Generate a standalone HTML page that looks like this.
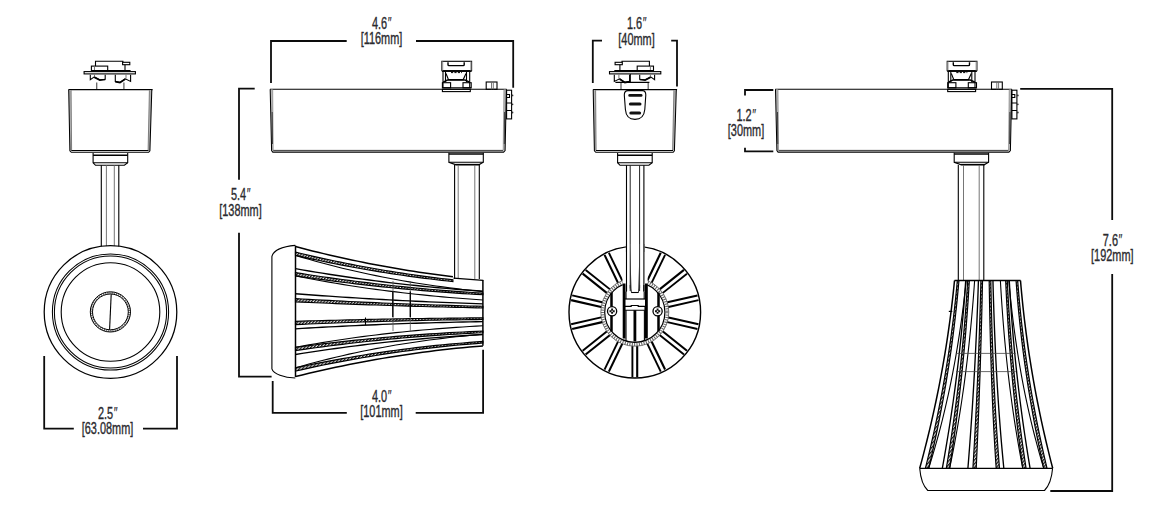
<!DOCTYPE html>
<html><head><meta charset="utf-8"><style>
html,body{margin:0;padding:0;background:#fff;}
svg{display:block;}
.t{font-family:"Liberation Sans",sans-serif;font-size:15.6px;fill:#2a2a2e;stroke:#2a2a2e;stroke-width:0.35px;}
.dim{stroke:#0c0c0c;stroke-width:1.8;fill:none;stroke-linecap:butt;stroke-linejoin:miter;}
.l{stroke:#000;stroke-width:1.1;fill:none;}
.lg{stroke:#666;stroke-width:0.9;fill:none;}
</style></head><body>
<svg width="1156" height="519" viewBox="0 0 1156 519">
<defs><pattern id="h" patternUnits="userSpaceOnUse" width="2.4" height="2.4" patternTransform="rotate(40)"><rect width="2.4" height="2.4" fill="#e8e8e8"/><rect width="1.25" height="2.4" fill="#1a1a1a"/></pattern></defs>
<rect width="1156" height="519" fill="#fff"/>
<text transform="translate(107.5 418.8) scale(0.7 1)" x="0" y="0" text-anchor="middle" class="t">2.5<tspan font-style="italic" style="stroke-width:0.15px">&#8243;</tspan></text>
<text transform="translate(107.5 433.6) scale(0.7 1)" x="0" y="0" text-anchor="middle" class="t">[63.08mm]</text>
<text transform="translate(381.5 28.5) scale(0.7 1)" x="0" y="0" text-anchor="middle" class="t">4.6<tspan font-style="italic" style="stroke-width:0.15px">&#8243;</tspan></text>
<text transform="translate(381.5 44.2) scale(0.7 1)" x="0" y="0" text-anchor="middle" class="t">[116mm]</text>
<text transform="translate(240.5 200) scale(0.7 1)" x="0" y="0" text-anchor="middle" class="t">5.4<tspan font-style="italic" style="stroke-width:0.15px">&#8243;</tspan></text>
<text transform="translate(240.5 215.9) scale(0.7 1)" x="0" y="0" text-anchor="middle" class="t">[138mm]</text>
<text transform="translate(381.5 402.2) scale(0.7 1)" x="0" y="0" text-anchor="middle" class="t">4.0<tspan font-style="italic" style="stroke-width:0.15px">&#8243;</tspan></text>
<text transform="translate(381.5 417) scale(0.7 1)" x="0" y="0" text-anchor="middle" class="t">[101mm]</text>
<text transform="translate(636.5 29.2) scale(0.7 1)" x="0" y="0" text-anchor="middle" class="t">1.6<tspan font-style="italic" style="stroke-width:0.15px">&#8243;</tspan></text>
<text transform="translate(636.5 45.3) scale(0.7 1)" x="0" y="0" text-anchor="middle" class="t">[40mm]</text>
<text transform="translate(746 120.6) scale(0.7 1)" x="0" y="0" text-anchor="middle" class="t">1.2<tspan font-style="italic" style="stroke-width:0.15px">&#8243;</tspan></text>
<text transform="translate(746 136.3) scale(0.7 1)" x="0" y="0" text-anchor="middle" class="t">[30mm]</text>
<text transform="translate(1112.3 245.8) scale(0.7 1)" x="0" y="0" text-anchor="middle" class="t">7.6<tspan font-style="italic" style="stroke-width:0.15px">&#8243;</tspan></text>
<text transform="translate(1112.3 261.3) scale(0.7 1)" x="0" y="0" text-anchor="middle" class="t">[192mm]</text>
<path d="M44.2,356 V428.7 H73.8" class="dim"/>
<path d="M143,428.7 H177 V356" class="dim"/>
<path d="M271,83 V41 H346.7" class="dim"/>
<path d="M416,41 H513.2 V87.7" class="dim"/>
<path d="M254.7,88.6 H239 V179.7" class="dim"/>
<path d="M239,232.7 V376.7 H271.6" class="dim"/>
<path d="M272.7,381 V412.9 H346.8" class="dim"/>
<path d="M415.7,412.9 H483.1 V349.8" class="dim"/>
<path d="M602,40.6 H592.8 V83.1" class="dim"/>
<path d="M671.2,40.6 H677 V86.5" class="dim"/>
<path d="M773.3,90 H745 V95.4" class="dim"/>
<path d="M745,147.8 V151.3 H773.3" class="dim"/>
<path d="M1020.2,88.9 H1112.2 V220" class="dim"/>
<path d="M1112.2,274 V491 H1050.3" class="dim"/>
<g transform="translate(0 0)"><path d="M95.5,66.1 V61.2 H122.9 V62.4" class="l"/><rect x="122.6" y="62.3" width="7.2" height="2.4" class="l" fill="#555"/><path d="M125,64.7 V70.6" class="l"/><rect x="91.4" y="66.1" width="16.3" height="4.5" class="l"/><path d="M94.5,66.1 V70.6" class="lg"/><path d="M91.4,70.6 H130.6" class="l"/><rect x="84.1" y="71.6" width="51.3" height="2.3" class="l"/><path d="M90.3,74.7 V79.6 L94.3,76.9 L99.8,79.8 L105.2,79.2 V74.7" class="l"/><path d="M94.5,74.7 V77" class="lg"/><path d="M115.3,74.7 V81.5 L120,82.3 L125.3,78.8 L130.6,81.4 V74.7" class="l"/><path d="M126,74.7 V78.5" class="lg"/><path d="M94.3,77.2 L99.8,80.2 L105.2,79.5" stroke="#000" stroke-width="1.6" fill="none"/><path d="M115.3,81.6 L120,82.6 L125.3,79" stroke="#000" stroke-width="1.6" fill="none"/><path d="M96.7,82.4 V89.3 M123.9,82.4 V89.3" stroke="#666" stroke-width="1.3" fill="none"/></g>
<g transform="translate(0 0)"><path d="M68.6,89.6 H152.6" class="l"/><polygon points="68.9,90 71.1,90.2 71.6,150.3 69.8,150.6" fill="#b4b4b4"/><polygon points="151.6,90 149.4,90.2 148.1,150.3 149.8,150.6" fill="#b4b4b4"/><path d="M68.7,89.6 L69.9,150.8 L71.3,152.3 H148.7 L149.9,150.8 L151.8,89.6" stroke="#000" stroke-width="1.05" fill="none"/><path d="M71.1,90.2 L71.6,150.3 M149.4,90.2 L148.1,150.3" stroke="#666" stroke-width="0.8" fill="none"/><path d="M71.3,150.5 H148.5" stroke="#000" stroke-width="1" fill="none"/><path d="M93.1,153 V162.7 L95.5,165.3 H124.4 L127.7,162.7 V153" class="l"/><path d="M93.1,155.2 H127.7" stroke="#000" stroke-width="1.4"/><path d="M93.1,162.7 H127.7" class="l"/></g>
<path d="M101.3,165.3 V246.5 M118.8,165.3 V246.5" class="l"/>
<path d="M106.4,165.3 V246 M114.3,165.3 V246" class="lg"/>
<circle cx="110.5" cy="312" r="66.3" stroke="#000" stroke-width="1.25" fill="none"/>
<circle cx="110.5" cy="312" r="58.1" stroke="#000" stroke-width="1.05" fill="none"/>
<circle cx="110.5" cy="312" r="56.1" stroke="#000" stroke-width="1.05" fill="none"/>
<circle cx="110.5" cy="312" r="49.3" stroke="#000" stroke-width="1.1" fill="none"/>
<circle cx="110.4" cy="311.9" r="19.0" stroke="#777" stroke-width="2.2" fill="none" stroke-dasharray="1.2 1"/>
<circle cx="110.4" cy="311.9" r="20.1" stroke="#000" stroke-width="1.0" fill="none"/>
<circle cx="110.4" cy="311.9" r="17.9" stroke="#000" stroke-width="1.0" fill="none"/>
<path d="M111.2,294.2 L109.6,329.6" class="l"/>
<g transform="translate(0 0)"><path d="M270,89.3 H506.6" class="l"/><polygon points="270.5,89.6 272.7,89.6 273.2,150.3 271.7,150.5" fill="#b8b8b8"/><polygon points="503.9,89.6 506.2,89.6 505.1,150.5 503.2,150.3" fill="#b8b8b8"/><path d="M270.2,89.3 L271.6,150.6 L272.8,152.1 H503.6 L505.1,150.6 L506.4,89.3" stroke="#000" stroke-width="1.05" fill="none"/><path d="M272.7,89.6 L273.2,150.3 M503.9,89.6 L503.2,150.3" stroke="#777" stroke-width="0.6" fill="none"/><path d="M272.2,112 L272.5,144 M504.6,112 L504.3,144" stroke="#222" stroke-width="0.8" fill="none"/><path d="M273.2,150.4 H503.2" stroke="#222" stroke-width="0.9" fill="none"/><rect x="441.9" y="61.3" width="29.7" height="9.3" class="l"/><polygon points="442,61.6 443.2,61.6 443.2,70.4 442,70.4" fill="#999"/><polygon points="470.3,61.6 471.5,61.6 471.5,70.4 470.3,70.4" fill="#999"/><path d="M448,62.2 V64.8 Q448,65.6 449,65.6 H463.2 Q464.2,65.6 464.2,64.8 V62.2" stroke="#000" stroke-width="1.4" fill="none"/><path d="M441.9,71.4 H471.6" class="l"/><path d="M443,71.4 V87.8 M445.5,71.4 V82 M466.5,71.4 V82 M469.7,71.4 V87.8" class="l"/><path d="M451,72.6 H462" stroke="#000" stroke-width="1" stroke-dasharray="2.2 1.2"/><path d="M446,73.5 L448.5,79.6 H463.2 L466,73.5" class="l"/><path d="M443.2,82.1 L447.5,80 H465 L469.6,82.1" stroke="#000" stroke-width="1.5" fill="none"/><rect x="442.4" y="82.7" width="8.2" height="5.1" class="l"/><rect x="463" y="82.7" width="8.2" height="5.1" class="l"/><path d="M442.4,87.8 H471.2" class="l"/><rect x="442.4" y="89.3" width="27.9" height="2.3" class="l"/><rect x="486.2" y="82" width="10.8" height="7.3" class="l"/><path d="M491.5,82 V89.3 M493.3,82 V89.3" class="lg"/><rect x="506.6" y="90.2" width="5" height="28.7" class="l"/><path d="M506.6,94.5 H509.5 V97.5 H506.6 M506.6,103 H511.6 M506.6,110.5 H511.6" class="l"/><circle cx="512.5" cy="95.4" r="0.9" fill="#333"/><circle cx="512.5" cy="104.3" r="0.9" fill="#333"/><circle cx="512.5" cy="112.5" r="0.9" fill="#333"/><path d="M448.9,152.8 V162.3 L455.5,164.6 H479.2 L483.3,162.3 V152.8" class="l"/><path d="M448.9,154 H483.3" stroke="#000" stroke-width="1.3"/><path d="M448.9,162.3 H483.3" class="l"/><path d="M455.5,164.6 H479.2" stroke="#000" stroke-width="1.5"/></g>
<g transform="translate(505.3 0)"><path d="M270,89.3 H506.6" class="l"/><polygon points="270.5,89.6 272.7,89.6 273.2,150.3 271.7,150.5" fill="#b8b8b8"/><polygon points="503.9,89.6 506.2,89.6 505.1,150.5 503.2,150.3" fill="#b8b8b8"/><path d="M270.2,89.3 L271.6,150.6 L272.8,152.1 H503.6 L505.1,150.6 L506.4,89.3" stroke="#000" stroke-width="1.05" fill="none"/><path d="M272.7,89.6 L273.2,150.3 M503.9,89.6 L503.2,150.3" stroke="#777" stroke-width="0.6" fill="none"/><path d="M272.2,112 L272.5,144 M504.6,112 L504.3,144" stroke="#222" stroke-width="0.8" fill="none"/><path d="M273.2,150.4 H503.2" stroke="#222" stroke-width="0.9" fill="none"/><rect x="441.9" y="61.3" width="29.7" height="9.3" class="l"/><polygon points="442,61.6 443.2,61.6 443.2,70.4 442,70.4" fill="#999"/><polygon points="470.3,61.6 471.5,61.6 471.5,70.4 470.3,70.4" fill="#999"/><path d="M448,62.2 V64.8 Q448,65.6 449,65.6 H463.2 Q464.2,65.6 464.2,64.8 V62.2" stroke="#000" stroke-width="1.4" fill="none"/><path d="M441.9,71.4 H471.6" class="l"/><path d="M443,71.4 V87.8 M445.5,71.4 V82 M466.5,71.4 V82 M469.7,71.4 V87.8" class="l"/><path d="M451,72.6 H462" stroke="#000" stroke-width="1" stroke-dasharray="2.2 1.2"/><path d="M446,73.5 L448.5,79.6 H463.2 L466,73.5" class="l"/><path d="M443.2,82.1 L447.5,80 H465 L469.6,82.1" stroke="#000" stroke-width="1.5" fill="none"/><rect x="442.4" y="82.7" width="8.2" height="5.1" class="l"/><rect x="463" y="82.7" width="8.2" height="5.1" class="l"/><path d="M442.4,87.8 H471.2" class="l"/><rect x="442.4" y="89.3" width="27.9" height="2.3" class="l"/><rect x="486.2" y="82" width="10.8" height="7.3" class="l"/><path d="M491.5,82 V89.3 M493.3,82 V89.3" class="lg"/><rect x="506.6" y="90.2" width="5" height="28.7" class="l"/><path d="M506.6,94.5 H509.5 V97.5 H506.6 M506.6,103 H511.6 M506.6,110.5 H511.6" class="l"/><circle cx="512.5" cy="95.4" r="0.9" fill="#333"/><circle cx="512.5" cy="104.3" r="0.9" fill="#333"/><circle cx="512.5" cy="112.5" r="0.9" fill="#333"/><path d="M448.9,152.8 V162.3 L455.5,164.6 H479.2 L483.3,162.3 V152.8" class="l"/><path d="M448.9,154 H483.3" stroke="#000" stroke-width="1.3"/><path d="M448.9,162.3 H483.3" class="l"/><path d="M455.5,164.6 H479.2" stroke="#000" stroke-width="1.5"/></g>
<path d="M454.6,165 V279 M479.3,165 V279" class="l"/>
<path d="M458.2,165 V279 M474.8,165 V279" class="lg"/>
<path d="M295.5,246.6 L301.12,248.06 L306.74,249.5 L312.37,250.91 L317.99,252.29 L323.61,253.64 L329.23,254.96 L334.85,256.25 L340.48,257.51 L346.1,258.74 L351.72,259.95 L357.34,261.13 L362.96,262.27 L368.59,263.39 L374.21,264.48 L379.83,265.55 L385.45,266.58 L391.07,267.58 L396.7,268.56 L402.32,269.5 L407.94,270.42 L413.56,271.31 L419.18,272.17 L424.81,273 L430.43,273.8 L436.05,274.57 L441.67,275.32 L447.29,276.04 L452.92,276.72" stroke="#000" stroke-width="1.5" fill="none"/>
<path d="M295.5,252.13 L301.12,253.47 L306.74,254.79 L312.37,256.08 L317.99,257.34 L323.61,258.58 L329.23,259.79 L334.85,260.98 L340.48,262.13 L346.1,263.27 L351.72,264.37 L357.34,265.45 L362.96,266.51 L368.59,267.53 L374.21,268.53 L379.83,269.51 L385.45,270.46 L391.07,271.38 L396.7,272.27 L402.32,273.14 L407.94,273.99 L413.56,274.8 L419.18,275.59 L424.81,276.36 L430.43,277.09 L436.05,277.81 L441.67,278.49 L447.29,279.15 L452.92,279.78 L452.92,281.58 L447.29,280.98 L441.67,280.35 L436.05,279.7 L430.43,279.03 L424.81,278.33 L419.18,277.61 L413.56,276.86 L407.94,276.08 L402.32,275.29 L396.7,274.46 L391.07,273.61 L385.45,272.74 L379.83,271.84 L374.21,270.92 L368.59,269.97 L362.96,269 L357.34,268 L351.72,266.98 L346.1,265.93 L340.48,264.85 L334.85,263.76 L329.23,262.63 L323.61,261.49 L317.99,260.31 L312.37,259.12 L306.74,257.89 L301.12,256.65 L295.5,255.38 Z" fill="url(#h)" stroke="#000" stroke-width="1.15"/>
<path d="M295.5,255.38 L302.19,257.38 L308.89,259.33 L315.58,261.22 L322.27,263.05 L328.96,264.82 L335.66,266.53 L342.35,268.19 L349.04,269.79 L355.74,271.33 L362.43,272.82 L369.12,274.26 L375.81,275.65 L382.51,276.99 L389.2,278.27 L395.89,279.51 L402.59,280.7 L409.28,281.85 L415.97,282.95 L422.66,284 L429.36,285.01 L436.05,285.97 L442.74,286.9 L449.44,287.78 L456.13,288.63 L462.82,289.43 L469.51,290.19 L476.21,290.92 L482.9,291.61" stroke="#000" stroke-width="1.1" fill="none"/>
<path d="M295.5,268.7 L302.19,269.86 L308.89,271 L315.58,272.11 L322.27,273.2 L328.96,274.25 L335.66,275.28 L342.35,276.29 L349.04,277.26 L355.74,278.21 L362.43,279.13 L369.12,280.03 L375.81,280.89 L382.51,281.74 L389.2,282.55 L395.89,283.34 L402.59,284.1 L409.28,284.83 L415.97,285.54 L422.66,286.22 L429.36,286.87 L436.05,287.5 L442.74,288.09 L449.44,288.67 L456.13,289.21 L462.82,289.73 L469.51,290.22 L476.21,290.68 L482.9,291.12" stroke="#000" stroke-width="1.35" fill="none"/>
<path d="M295.5,272.6 L302.19,273.66 L308.89,274.7 L315.58,275.71 L322.27,276.7 L328.96,277.67 L335.66,278.61 L342.35,279.53 L349.04,280.42 L355.74,281.28 L362.43,282.13 L369.12,282.94 L375.81,283.74 L382.51,284.51 L389.2,285.25 L395.89,285.97 L402.59,286.67 L409.28,287.34 L415.97,287.98 L422.66,288.6 L429.36,289.2 L436.05,289.77 L442.74,290.32 L449.44,290.85 L456.13,291.35 L462.82,291.82 L469.51,292.27 L476.21,292.7 L482.9,293.1 L482.9,294.75 L476.21,294.38 L469.51,293.98 L462.82,293.57 L456.13,293.13 L449.44,292.67 L442.74,292.18 L436.05,291.68 L429.36,291.15 L422.66,290.59 L415.97,290.02 L409.28,289.42 L402.59,288.81 L395.89,288.16 L389.2,287.5 L382.51,286.81 L375.81,286.11 L369.12,285.37 L362.43,284.62 L355.74,283.84 L349.04,283.05 L342.35,282.23 L335.66,281.38 L328.96,280.52 L322.27,279.63 L315.58,278.72 L308.89,277.78 L302.19,276.83 L295.5,275.85 Z" fill="url(#h)" stroke="#000" stroke-width="1.15"/>
<path d="M295.5,275.85 L302.19,277.19 L308.89,278.49 L315.58,279.75 L322.27,280.96 L328.96,282.14 L335.66,283.28 L342.35,284.38 L349.04,285.45 L355.74,286.48 L362.43,287.47 L369.12,288.43 L375.81,289.35 L382.51,290.24 L389.2,291.1 L395.89,291.92 L402.59,292.72 L409.28,293.48 L415.97,294.21 L422.66,294.92 L429.36,295.59 L436.05,296.24 L442.74,296.85 L449.44,297.45 L456.13,298.01 L462.82,298.55 L469.51,299.07 L476.21,299.56 L482.9,300.03" stroke="#000" stroke-width="1.1" fill="none"/>
<path d="M295.5,293.73 L302.19,294.24 L308.89,294.74 L315.58,295.23 L322.27,295.71 L328.96,296.17 L335.66,296.63 L342.35,297.07 L349.04,297.51 L355.74,297.93 L362.43,298.34 L369.12,298.74 L375.81,299.13 L382.51,299.51 L389.2,299.88 L395.89,300.23 L402.59,300.57 L409.28,300.91 L415.97,301.23 L422.66,301.54 L429.36,301.84 L436.05,302.12 L442.74,302.4 L449.44,302.67 L456.13,302.92 L462.82,303.16 L469.51,303.4 L476.21,303.62 L482.9,303.82" stroke="#000" stroke-width="1.35" fill="none"/>
<path d="M295.5,298.6 L302.19,298.99 L308.89,299.36 L315.58,299.73 L322.27,300.09 L328.96,300.44 L335.66,300.79 L342.35,301.12 L349.04,301.45 L355.74,301.77 L362.43,302.08 L369.12,302.39 L375.81,302.68 L382.51,302.97 L389.2,303.25 L395.89,303.52 L402.59,303.78 L409.28,304.04 L415.97,304.28 L422.66,304.52 L429.36,304.75 L436.05,304.97 L442.74,305.19 L449.44,305.39 L456.13,305.59 L462.82,305.78 L469.51,305.96 L476.21,306.14 L482.9,306.3 L482.9,307.95 L476.21,307.81 L469.51,307.67 L462.82,307.53 L456.13,307.37 L449.44,307.21 L442.74,307.05 L436.05,306.88 L429.36,306.7 L422.66,306.51 L415.97,306.32 L409.28,306.13 L402.59,305.92 L395.89,305.71 L389.2,305.5 L382.51,305.28 L375.81,305.05 L369.12,304.82 L362.43,304.58 L355.74,304.33 L349.04,304.08 L342.35,303.82 L335.66,303.56 L328.96,303.29 L322.27,303.02 L315.58,302.73 L308.89,302.44 L302.19,302.15 L295.5,301.85 Z" fill="url(#h)" stroke="#000" stroke-width="1.15"/>
<path d="M295.5,321.35 L302.19,321.14 L308.89,320.94 L315.58,320.75 L322.27,320.56 L328.96,320.37 L335.66,320.2 L342.35,320.03 L349.04,319.86 L355.74,319.7 L362.43,319.55 L369.12,319.4 L375.81,319.26 L382.51,319.13 L389.2,319 L395.89,318.88 L402.59,318.76 L409.28,318.65 L415.97,318.55 L422.66,318.45 L429.36,318.36 L436.05,318.27 L442.74,318.2 L449.44,318.12 L456.13,318.06 L462.82,318 L469.51,317.94 L476.21,317.89 L482.9,317.85 L482.9,319.5 L476.21,319.57 L469.51,319.65 L462.82,319.74 L456.13,319.84 L449.44,319.94 L442.74,320.05 L436.05,320.18 L429.36,320.3 L422.66,320.44 L415.97,320.59 L409.28,320.74 L402.59,320.9 L395.89,321.07 L389.2,321.25 L382.51,321.44 L375.81,321.63 L369.12,321.83 L362.43,322.04 L355.74,322.26 L349.04,322.49 L342.35,322.73 L335.66,322.97 L328.96,323.22 L322.27,323.48 L315.58,323.75 L308.89,324.02 L302.19,324.31 L295.5,324.6 Z" fill="url(#h)" stroke="#000" stroke-width="1.15"/>
<path d="M295.5,328.83 L302.19,328.42 L308.89,328.03 L315.58,327.65 L322.27,327.28 L328.96,326.92 L335.66,326.57 L342.35,326.24 L349.04,325.91 L355.74,325.59 L362.43,325.29 L369.12,324.99 L375.81,324.71 L382.51,324.44 L389.2,324.18 L395.89,323.92 L402.59,323.68 L409.28,323.45 L415.97,323.24 L422.66,323.03 L429.36,322.83 L436.05,322.64 L442.74,322.47 L449.44,322.31 L456.13,322.15 L462.82,322.01 L469.51,321.88 L476.21,321.76 L482.9,321.64" stroke="#000" stroke-width="1.35" fill="none"/>
<path d="M295.5,347.35 L302.19,346.1 L308.89,344.9 L315.58,343.73 L322.27,342.61 L328.96,341.52 L335.66,340.47 L342.35,339.47 L349.04,338.49 L355.74,337.56 L362.43,336.66 L369.12,335.79 L375.81,334.96 L382.51,334.16 L389.2,333.4 L395.89,332.67 L402.59,331.97 L409.28,331.3 L415.97,330.66 L422.66,330.05 L429.36,329.47 L436.05,328.91 L442.74,328.39 L449.44,327.89 L456.13,327.42 L462.82,326.97 L469.51,326.55 L476.21,326.15 L482.9,325.77" stroke="#000" stroke-width="1.1" fill="none"/>
<path d="M295.5,347.35 L302.19,346.46 L308.89,345.6 L315.58,344.76 L322.27,343.94 L328.96,343.15 L335.66,342.38 L342.35,341.62 L349.04,340.9 L355.74,340.19 L362.43,339.51 L369.12,338.85 L375.81,338.21 L382.51,337.59 L389.2,337 L395.89,336.43 L402.59,335.88 L409.28,335.35 L415.97,334.85 L422.66,334.37 L429.36,333.91 L436.05,333.47 L442.74,333.06 L449.44,332.67 L456.13,332.3 L462.82,331.95 L469.51,331.63 L476.21,331.33 L482.9,331.05 L482.9,332.7 L476.21,333.01 L469.51,333.34 L462.82,333.7 L456.13,334.08 L449.44,334.49 L442.74,334.92 L436.05,335.38 L429.36,335.86 L422.66,336.36 L415.97,336.89 L409.28,337.44 L402.59,338.02 L395.89,338.62 L389.2,339.25 L382.51,339.9 L375.81,340.58 L369.12,341.28 L362.43,342 L355.74,342.75 L349.04,343.53 L342.35,344.32 L335.66,345.15 L328.96,346 L322.27,346.87 L315.58,347.76 L308.89,348.68 L302.19,349.63 L295.5,350.6 Z" fill="url(#h)" stroke="#000" stroke-width="1.15"/>
<path d="M295.5,354.5 L302.19,353.43 L308.89,352.38 L315.58,351.37 L322.27,350.38 L328.96,349.41 L335.66,348.47 L342.35,347.56 L349.04,346.68 L355.74,345.83 L362.43,345 L369.12,344.19 L375.81,343.42 L382.51,342.67 L389.2,341.95 L395.89,341.26 L402.59,340.59 L409.28,339.95 L415.97,339.33 L422.66,338.75 L429.36,338.19 L436.05,337.65 L442.74,337.15 L449.44,336.67 L456.13,336.22 L462.82,335.79 L469.51,335.4 L476.21,335.02 L482.9,334.68" stroke="#000" stroke-width="1.35" fill="none"/>
<path d="M295.5,367.83 L302.19,365.91 L308.89,364.05 L315.58,362.26 L322.27,360.52 L328.96,358.85 L335.66,357.23 L342.35,355.67 L349.04,354.16 L355.74,352.7 L362.43,351.31 L369.12,349.96 L375.81,348.66 L382.51,347.42 L389.2,346.23 L395.89,345.08 L402.59,343.98 L409.28,342.93 L415.97,341.92 L422.66,340.96 L429.36,340.05 L436.05,339.18 L442.74,338.34 L449.44,337.55 L456.13,336.8 L462.82,336.09 L469.51,335.42 L476.21,334.78 L482.9,334.19" stroke="#000" stroke-width="1.1" fill="none"/>
<path d="M295.5,367.83 L302.19,366.41 L308.89,365.02 L315.58,363.67 L322.27,362.36 L328.96,361.08 L335.66,359.84 L342.35,358.63 L349.04,357.46 L355.74,356.33 L362.43,355.23 L369.12,354.16 L375.81,353.13 L382.51,352.13 L389.2,351.18 L395.89,350.25 L402.59,349.36 L409.28,348.51 L415.97,347.69 L422.66,346.91 L429.36,346.16 L436.05,345.44 L442.74,344.77 L449.44,344.13 L456.13,343.52 L462.82,342.95 L469.51,342.41 L476.21,341.91 L482.9,341.44 L482.9,343.09 L476.21,343.59 L469.51,344.12 L462.82,344.69 L456.13,345.3 L449.44,345.94 L442.74,346.63 L436.05,347.34 L429.36,348.1 L422.66,348.9 L415.97,349.73 L409.28,350.6 L402.59,351.5 L395.89,352.44 L389.2,353.43 L382.51,354.44 L375.81,355.5 L369.12,356.59 L362.43,357.72 L355.74,358.89 L349.04,360.09 L342.35,361.34 L335.66,362.61 L328.96,363.93 L322.27,365.29 L315.58,366.68 L308.89,368.11 L302.19,369.57 L295.5,371.08 Z" fill="url(#h)" stroke="#000" stroke-width="1.15"/>
<path d="M295.5,376.6 L302.19,374.95 L308.89,373.35 L315.58,371.78 L322.27,370.26 L328.96,368.77 L335.66,367.33 L342.35,365.93 L349.04,364.56 L355.74,363.24 L362.43,361.96 L369.12,360.72 L375.81,359.52 L382.51,358.37 L389.2,357.25 L395.89,356.17 L402.59,355.14 L409.28,354.14 L415.97,353.19 L422.66,352.28 L429.36,351.41 L436.05,350.57 L442.74,349.78 L449.44,349.04 L456.13,348.33 L462.82,347.66 L469.51,347.03 L476.21,346.45 L482.9,345.9" stroke="#000" stroke-width="1.5" fill="none"/>
<path d="M453.5,278.2 L483.2,280.4" stroke="#000" stroke-width="1.2"/>
<path d="M482.9,279.9 V345.8" stroke="#000" stroke-width="1.5"/>
<path d="M295.5,245.6 V377" stroke="#000" stroke-width="1.5"/>
<path d="M295.3,245.4 C284,246.5 273.5,250 271.9,256.5 V368.8 C273.5,374 284,377.5 295.3,378" class="l"/>
<path d="M393,281 V331 M410.3,281 V331" stroke="#555" stroke-width="0.8"/>
<path d="M392.8,291.5 V317 M410.3,291.5 V317" stroke="#000" stroke-width="1.3"/>
<path d="M365.5,317.5 V325" class="l"/>
<g transform="translate(634.9 0) scale(-1 1) translate(-110 0)"><path d="M95.5,66.1 V61.2 H122.9 V62.4" class="l"/><rect x="122.6" y="62.3" width="7.2" height="2.4" class="l" fill="#555"/><path d="M125,64.7 V70.6" class="l"/><rect x="91.4" y="66.1" width="16.3" height="4.5" class="l"/><path d="M94.5,66.1 V70.6" class="lg"/><path d="M91.4,70.6 H130.6" class="l"/><rect x="84.1" y="71.6" width="51.3" height="2.3" class="l"/><path d="M90.3,74.7 V79.6 L94.3,76.9 L99.8,79.8 L105.2,79.2 V74.7" class="l"/><path d="M94.5,74.7 V77" class="lg"/><path d="M115.3,74.7 V81.5 L120,82.3 L125.3,78.8 L130.6,81.4 V74.7" class="l"/><path d="M126,74.7 V78.5" class="lg"/><path d="M94.3,77.2 L99.8,80.2 L105.2,79.5" stroke="#000" stroke-width="1.6" fill="none"/><path d="M115.3,81.6 L120,82.6 L125.3,79" stroke="#000" stroke-width="1.6" fill="none"/><path d="M96.7,82.4 V89.3 M123.9,82.4 V89.3" stroke="#666" stroke-width="1.3" fill="none"/><path d="M95.5,82.4 H129.5 M114.6,74 V82.4" class="l"/></g>
<g transform="translate(524.5 0)"><path d="M68.6,89.6 H152.6" class="l"/><polygon points="68.9,90 71.1,90.2 71.6,150.3 69.8,150.6" fill="#b4b4b4"/><polygon points="151.6,90 149.4,90.2 148.1,150.3 149.8,150.6" fill="#b4b4b4"/><path d="M68.7,89.6 L69.9,150.8 L71.3,152.3 H148.7 L149.9,150.8 L151.8,89.6" stroke="#000" stroke-width="1.05" fill="none"/><path d="M71.1,90.2 L71.6,150.3 M149.4,90.2 L148.1,150.3" stroke="#666" stroke-width="0.8" fill="none"/><path d="M71.3,150.5 H148.5" stroke="#000" stroke-width="1" fill="none"/><path d="M93.1,153 V162.7 L95.5,165.3 H124.4 L127.7,162.7 V153" class="l"/><path d="M93.1,155.2 H127.7" stroke="#000" stroke-width="1.4"/><path d="M93.1,162.7 H127.7" class="l"/></g>
<path d="M624.3,95 Q624.3,90.6 628,90.6 H642.5 Q645.8,90.6 645.8,95 L644.8,109.5 Q643.8,119.4 635,119.4 Q626.2,119.4 625.4,109.5 Z" stroke="#000" stroke-width="1.1" fill="#fff"/>
<path d="M629.6,95.4 H641.2" stroke="#111" stroke-width="2.6" stroke-linecap="round"/>
<path d="M630.4,103.9 H640" stroke="#111" stroke-width="3" stroke-linecap="round"/>
<path d="M630.8,112.9 H639.6" stroke="#111" stroke-width="3" stroke-linecap="round"/>
<path d="M626.5,165.3 V291.6 M643.9,165.3 V291.6" class="l"/>
<path d="M630.2,165.3 V291 M639.6,165.3 V291" stroke="#222" stroke-width="1"/>
<circle cx="634.8" cy="312.2" r="65.8" stroke="#000" stroke-width="1.4" fill="none"/>
<circle cx="634.8" cy="312.2" r="32.4" stroke="#666" stroke-width="3.0" fill="none" stroke-dasharray="1.1 1.3"/>
<circle cx="634.8" cy="312.2" r="34" stroke="#555" stroke-width="0.8" fill="none"/>
<circle cx="634.8" cy="312.2" r="30.1" stroke="#000" stroke-width="1.2" fill="none"/>
<path d="M617.89,282.61 L604.52,254.86" stroke="#000" stroke-width="2.1"/>
<path d="M622.21,280.53 L608.85,252.78" stroke="#000" stroke-width="1.9"/>
<path d="M606.72,292.88 L582.64,273.67" stroke="#000" stroke-width="2.1"/>
<path d="M609.71,289.12 L585.63,269.92" stroke="#000" stroke-width="1.9"/>
<path d="M601.12,306.97 L571.09,300.12" stroke="#000" stroke-width="2.1"/>
<path d="M602.19,302.29 L572.16,295.44" stroke="#000" stroke-width="1.9"/>
<path d="M602.19,322.11 L572.16,328.96" stroke="#000" stroke-width="2.1"/>
<path d="M601.12,317.43 L571.09,324.28" stroke="#000" stroke-width="1.9"/>
<path d="M609.71,335.28 L585.63,354.48" stroke="#000" stroke-width="2.1"/>
<path d="M606.72,331.52 L582.64,350.73" stroke="#000" stroke-width="1.9"/>
<path d="M622.21,343.87 L608.85,371.62" stroke="#000" stroke-width="2.1"/>
<path d="M617.89,341.79 L604.52,369.54" stroke="#000" stroke-width="1.9"/>
<path d="M637.2,346.2 L637.2,377" stroke="#000" stroke-width="2.1"/>
<path d="M632.4,346.2 L632.4,377" stroke="#000" stroke-width="1.9"/>
<path d="M651.71,341.79 L665.08,369.54" stroke="#000" stroke-width="2.1"/>
<path d="M647.39,343.87 L660.75,371.62" stroke="#000" stroke-width="1.9"/>
<path d="M662.88,331.52 L686.96,350.73" stroke="#000" stroke-width="2.1"/>
<path d="M659.89,335.28 L683.97,354.48" stroke="#000" stroke-width="1.9"/>
<path d="M668.48,317.43 L698.51,324.28" stroke="#000" stroke-width="2.1"/>
<path d="M667.41,322.11 L697.44,328.96" stroke="#000" stroke-width="1.9"/>
<path d="M667.41,302.29 L697.44,295.44" stroke="#000" stroke-width="2.1"/>
<path d="M668.48,306.97 L698.51,300.12" stroke="#000" stroke-width="1.9"/>
<path d="M659.89,289.12 L683.97,269.92" stroke="#000" stroke-width="2.1"/>
<path d="M662.88,292.88 L686.96,273.67" stroke="#000" stroke-width="1.9"/>
<path d="M647.39,280.53 L660.75,252.78" stroke="#000" stroke-width="2.1"/>
<path d="M651.71,282.61 L665.08,254.86" stroke="#000" stroke-width="1.9"/>
<rect x="626" y="244" width="18.5" height="10" fill="#fff"/><rect x="622.6" y="252" width="25" height="33" fill="#fff"/>
<path d="M626.5,244 V291.6 M643.9,244 V291.6" class="l"/>
<path d="M630.2,244 V288 L631.5,292.4 M639.6,244 V288 L638.3,292.4" stroke="#333" stroke-width="1"/>
<path d="M631.2,292.5 H638.6" class="l"/>
<path d="M624.1,283.5 V338.5 M646.4,283.5 V338.5" stroke="#000" stroke-width="2.8"/>
<path d="M611.5,292.5 V331.5 M658.5,292.5 V331.5" stroke="#000" stroke-width="2.5"/>
<path d="M626,291.6 V299 M644.2,291.6 V299" class="l"/>
<path d="M625,299 H645" stroke="#000" stroke-width="1.2"/>
<path d="M625,306.4 H631.2 V305.5 H638.2 V306.4 H645 V310.3 H625 Z" stroke="#000" stroke-width="1.1" fill="#fff"/>
<path d="M626,310.3 V341 M644.4,310.3 V341" class="l"/>
<path d="M634.9,310.3 V341.5" stroke="#000" stroke-width="2.8"/>
<circle cx="612.1" cy="311.2" r="4.6" fill="#fff" stroke="#000" stroke-width="1.3"/>
<path d="M609.5,311.2 H614.7 M612.1,308.6 V313.8" stroke="#111" stroke-width="1.9"/>
<circle cx="612.1" cy="311.2" r="0.8" fill="#fff"/>
<circle cx="657.6" cy="311.2" r="4.6" fill="#fff" stroke="#000" stroke-width="1.3"/>
<path d="M655,311.2 H660.2 M657.6,308.6 V313.8" stroke="#111" stroke-width="1.9"/>
<circle cx="657.6" cy="311.2" r="0.8" fill="#fff"/>
<path d="M958.3,165 V280.5 M983.8,165 V280.5" class="l"/>
<path d="M963.5,165 V280.5 M979.2,165 V280.5" class="lg"/>
<path d="M919.7,468.3 L921.52,461.59 L923.3,454.89 L925.03,448.18 L926.72,441.47 L928.37,434.76 L929.98,428.06 L931.54,421.35 L933.06,414.64 L934.54,407.94 L935.97,401.23 L937.37,394.52 L938.72,387.81 L940.02,381.11 L941.29,374.4 L942.51,367.69 L943.69,360.99 L944.82,354.28 L945.92,347.57 L946.97,340.86 L947.98,334.16 L948.94,327.45 L949.86,320.74 L950.74,314.04 L951.58,307.33 L952.37,300.62 L953.13,293.91 L953.83,287.21 L954.5,280.5" stroke="#000" stroke-width="1.5" fill="none"/>
<path d="M925.35,468.3 L927.02,461.59 L928.65,454.89 L930.24,448.18 L931.79,441.47 L933.31,434.76 L934.78,428.06 L936.21,421.35 L937.61,414.64 L938.97,407.94 L940.28,401.23 L941.56,394.52 L942.8,387.81 L944,381.11 L945.16,374.4 L946.28,367.69 L947.36,360.99 L948.41,354.28 L949.41,347.57 L950.38,340.86 L951.3,334.16 L952.19,327.45 L953.04,320.74 L953.85,314.04 L954.62,307.33 L955.35,300.62 L956.04,293.91 L956.69,287.21 L957.3,280.5 L958.96,280.5 L958.37,287.21 L957.75,293.91 L957.1,300.62 L956.4,307.33 L955.67,314.04 L954.91,320.74 L954.1,327.45 L953.26,334.16 L952.38,340.86 L951.47,347.57 L950.52,354.28 L949.53,360.99 L948.5,367.69 L947.44,374.4 L946.34,381.11 L945.2,387.81 L944.03,394.52 L942.82,401.23 L941.57,407.94 L940.29,414.64 L938.96,421.35 L937.6,428.06 L936.21,434.76 L934.78,441.47 L933.31,448.18 L931.8,454.89 L930.26,461.59 L928.68,468.3 Z" fill="url(#h)" stroke="#000" stroke-width="1.15"/>
<path d="M928.68,468.3 L930.77,461.59 L932.79,454.89 L934.75,448.18 L936.65,441.47 L938.49,434.76 L940.27,428.06 L941.99,421.35 L943.65,414.64 L945.25,407.94 L946.8,401.23 L948.29,394.52 L949.73,387.81 L951.12,381.11 L952.45,374.4 L953.73,367.69 L954.96,360.99 L956.15,354.28 L957.28,347.57 L958.37,340.86 L959.41,334.16 L960.41,327.45 L961.36,320.74 L962.27,314.04 L963.14,307.33 L963.97,300.62 L964.76,293.91 L965.5,287.21 L966.22,280.5" stroke="#000" stroke-width="1.1" fill="none"/>
<path d="M942.31,468.3 L943.53,461.59 L944.72,454.89 L945.88,448.18 L947.01,441.47 L948.11,434.76 L949.19,428.06 L950.24,421.35 L951.25,414.64 L952.25,407.94 L953.21,401.23 L954.14,394.52 L955.05,387.81 L955.93,381.11 L956.78,374.4 L957.6,367.69 L958.39,360.99 L959.16,354.28 L959.9,347.57 L960.61,340.86 L961.29,334.16 L961.94,327.45 L962.56,320.74 L963.16,314.04 L963.73,307.33 L964.27,300.62 L964.78,293.91 L965.26,287.21 L965.72,280.5" stroke="#000" stroke-width="1.35" fill="none"/>
<path d="M946.3,468.3 L947.41,461.59 L948.5,454.89 L949.55,448.18 L950.59,441.47 L951.6,434.76 L952.58,428.06 L953.53,421.35 L954.47,414.64 L955.37,407.94 L956.25,401.23 L957.1,394.52 L957.93,387.81 L958.74,381.11 L959.51,374.4 L960.26,367.69 L960.99,360.99 L961.69,354.28 L962.36,347.57 L963.01,340.86 L963.64,334.16 L964.23,327.45 L964.81,320.74 L965.35,314.04 L965.87,307.33 L966.37,300.62 L966.84,293.91 L967.28,287.21 L967.7,280.5 L969.35,280.5 L968.96,287.21 L968.55,293.91 L968.12,300.62 L967.66,307.33 L967.18,314.04 L966.67,320.74 L966.15,327.45 L965.59,334.16 L965.02,340.86 L964.42,347.57 L963.8,354.28 L963.15,360.99 L962.48,367.69 L961.79,374.4 L961.07,381.11 L960.33,387.81 L959.57,394.52 L958.78,401.23 L957.97,407.94 L957.14,414.64 L956.28,421.35 L955.4,428.06 L954.5,434.76 L953.57,441.47 L952.62,448.18 L951.64,454.89 L950.65,461.59 L949.62,468.3 Z" fill="url(#h)" stroke="#000" stroke-width="1.15"/>
<path d="M949.62,468.3 L951.02,461.59 L952.36,454.89 L953.67,448.18 L954.93,441.47 L956.16,434.76 L957.34,428.06 L958.48,421.35 L959.59,414.64 L960.65,407.94 L961.68,401.23 L962.67,394.52 L963.63,387.81 L964.55,381.11 L965.44,374.4 L966.29,367.69 L967.11,360.99 L967.89,354.28 L968.65,347.57 L969.37,340.86 L970.07,334.16 L970.73,327.45 L971.37,320.74 L971.98,314.04 L972.56,307.33 L973.12,300.62 L973.65,293.91 L974.15,287.21 L974.63,280.5" stroke="#000" stroke-width="1.1" fill="none"/>
<path d="M967.91,468.3 L968.45,461.59 L968.97,454.89 L969.48,448.18 L969.98,441.47 L970.47,434.76 L970.94,428.06 L971.4,421.35 L971.86,414.64 L972.3,407.94 L972.72,401.23 L973.14,394.52 L973.55,387.81 L973.94,381.11 L974.32,374.4 L974.69,367.69 L975.05,360.99 L975.39,354.28 L975.73,347.57 L976.05,340.86 L976.36,334.16 L976.66,327.45 L976.95,320.74 L977.22,314.04 L977.49,307.33 L977.74,300.62 L977.98,293.91 L978.21,287.21 L978.42,280.5" stroke="#000" stroke-width="1.35" fill="none"/>
<path d="M972.9,468.3 L973.3,461.59 L973.69,454.89 L974.08,448.18 L974.45,441.47 L974.82,434.76 L975.18,428.06 L975.53,421.35 L975.87,414.64 L976.2,407.94 L976.53,401.23 L976.84,394.52 L977.15,387.81 L977.45,381.11 L977.74,374.4 L978.02,367.69 L978.29,360.99 L978.56,354.28 L978.81,347.57 L979.06,340.86 L979.3,334.16 L979.53,327.45 L979.75,320.74 L979.96,314.04 L980.17,307.33 L980.36,300.62 L980.55,293.91 L980.73,287.21 L980.9,280.5 L982.55,280.5 L982.41,287.21 L982.26,293.91 L982.11,300.62 L981.95,307.33 L981.79,314.04 L981.62,320.74 L981.44,327.45 L981.26,334.16 L981.06,340.86 L980.87,347.57 L980.66,354.28 L980.45,360.99 L980.24,367.69 L980.02,374.4 L979.79,381.11 L979.55,387.81 L979.31,394.52 L979.06,401.23 L978.81,407.94 L978.54,414.64 L978.28,421.35 L978,428.06 L977.72,434.76 L977.44,441.47 L977.14,448.18 L976.84,454.89 L976.54,461.59 L976.23,468.3 Z" fill="url(#h)" stroke="#000" stroke-width="1.15"/>
<path d="M996.18,468.3 L995.72,461.59 L995.29,454.89 L994.88,448.18 L994.48,441.47 L994.1,434.76 L993.74,428.06 L993.4,421.35 L993.07,414.64 L992.76,407.94 L992.46,401.23 L992.17,394.52 L991.9,387.81 L991.65,381.11 L991.41,374.4 L991.18,367.69 L990.96,360.99 L990.75,354.28 L990.56,347.57 L990.38,340.86 L990.2,334.16 L990.04,327.45 L989.89,320.74 L989.75,314.04 L989.61,307.33 L989.48,300.62 L989.37,293.91 L989.25,287.21 L989.15,280.5 L990.8,280.5 L990.94,287.21 L991.08,293.91 L991.23,300.62 L991.4,307.33 L991.57,314.04 L991.76,320.74 L991.95,327.45 L992.16,334.16 L992.38,340.86 L992.62,347.57 L992.86,354.28 L993.12,360.99 L993.4,367.69 L993.68,374.4 L993.99,381.11 L994.31,387.81 L994.64,394.52 L994.99,401.23 L995.36,407.94 L995.74,414.64 L996.15,421.35 L996.57,428.06 L997.01,434.76 L997.47,441.47 L997.94,448.18 L998.44,454.89 L998.96,461.59 L999.5,468.3 Z" fill="url(#h)" stroke="#000" stroke-width="1.15"/>
<path d="M1003.82,468.3 L1003.17,461.59 L1002.54,454.89 L1001.93,448.18 L1001.34,441.47 L1000.78,434.76 L1000.24,428.06 L999.72,421.35 L999.22,414.64 L998.74,407.94 L998.29,401.23 L997.85,394.52 L997.43,387.81 L997.03,381.11 L996.65,374.4 L996.28,367.69 L995.93,360.99 L995.6,354.28 L995.29,347.57 L994.99,340.86 L994.71,334.16 L994.44,327.45 L994.19,320.74 L993.95,314.04 L993.72,307.33 L993.51,300.62 L993.31,293.91 L993.12,287.21 L992.95,280.5" stroke="#000" stroke-width="1.35" fill="none"/>
<path d="M1022.78,468.3 L1021.48,461.59 L1020.22,454.89 L1019.01,448.18 L1017.84,441.47 L1016.71,434.76 L1015.62,428.06 L1014.57,421.35 L1013.56,414.64 L1012.58,407.94 L1011.65,401.23 L1010.75,394.52 L1009.89,387.81 L1009.06,381.11 L1008.26,374.4 L1007.5,367.69 L1006.78,360.99 L1006.08,354.28 L1005.42,347.57 L1004.79,340.86 L1004.19,334.16 L1003.62,327.45 L1003.07,320.74 L1002.56,314.04 L1002.07,307.33 L1001.61,300.62 L1001.17,293.91 L1000.76,287.21 L1000.37,280.5" stroke="#000" stroke-width="1.1" fill="none"/>
<path d="M1022.78,468.3 L1021.85,461.59 L1020.94,454.89 L1020.06,448.18 L1019.2,441.47 L1018.37,434.76 L1017.55,428.06 L1016.77,421.35 L1016,414.64 L1015.26,407.94 L1014.54,401.23 L1013.85,394.52 L1013.18,387.81 L1012.53,381.11 L1011.91,374.4 L1011.31,367.69 L1010.73,360.99 L1010.18,354.28 L1009.65,347.57 L1009.15,340.86 L1008.66,334.16 L1008.2,327.45 L1007.77,320.74 L1007.36,314.04 L1006.97,307.33 L1006.6,300.62 L1006.26,293.91 L1005.94,287.21 L1005.65,280.5 L1007.3,280.5 L1007.63,287.21 L1007.98,293.91 L1008.35,300.62 L1008.76,307.33 L1009.18,314.04 L1009.64,320.74 L1010.12,327.45 L1010.62,334.16 L1011.15,340.86 L1011.71,347.57 L1012.29,354.28 L1012.9,360.99 L1013.53,367.69 L1014.19,374.4 L1014.87,381.11 L1015.58,387.81 L1016.32,394.52 L1017.08,401.23 L1017.87,407.94 L1018.68,414.64 L1019.52,421.35 L1020.38,428.06 L1021.27,434.76 L1022.18,441.47 L1023.12,448.18 L1024.09,454.89 L1025.08,461.59 L1026.1,468.3 Z" fill="url(#h)" stroke="#000" stroke-width="1.15"/>
<path d="M1030.09,468.3 L1028.97,461.59 L1027.87,454.89 L1026.8,448.18 L1025.76,441.47 L1024.75,434.76 L1023.77,428.06 L1022.81,421.35 L1021.89,414.64 L1020.99,407.94 L1020.12,401.23 L1019.28,394.52 L1018.46,387.81 L1017.68,381.11 L1016.92,374.4 L1016.19,367.69 L1015.49,360.99 L1014.82,354.28 L1014.17,347.57 L1013.56,340.86 L1012.97,334.16 L1012.41,327.45 L1011.88,320.74 L1011.37,314.04 L1010.9,307.33 L1010.45,300.62 L1010.03,293.91 L1009.64,287.21 L1009.28,280.5" stroke="#000" stroke-width="1.35" fill="none"/>
<path d="M1043.72,468.3 L1041.73,461.59 L1039.79,454.89 L1037.93,448.18 L1036.12,441.47 L1034.37,434.76 L1032.69,428.06 L1031.06,421.35 L1029.49,414.64 L1027.98,407.94 L1026.53,401.23 L1025.13,394.52 L1023.78,387.81 L1022.49,381.11 L1021.25,374.4 L1020.06,367.69 L1018.92,360.99 L1017.83,354.28 L1016.79,347.57 L1015.79,340.86 L1014.84,334.16 L1013.94,327.45 L1013.08,320.74 L1012.26,314.04 L1011.49,307.33 L1010.75,300.62 L1010.06,293.91 L1009.4,287.21 L1008.78,280.5" stroke="#000" stroke-width="1.1" fill="none"/>
<path d="M1043.72,468.3 L1042.24,461.59 L1040.78,454.89 L1039.37,448.18 L1037.99,441.47 L1036.65,434.76 L1035.35,428.06 L1034.09,421.35 L1032.86,414.64 L1031.67,407.94 L1030.51,401.23 L1029.39,394.52 L1028.31,387.81 L1027.27,381.11 L1026.26,374.4 L1025.29,367.69 L1024.36,360.99 L1023.46,354.28 L1022.6,347.57 L1021.78,340.86 L1021,334.16 L1020.25,327.45 L1019.54,320.74 L1018.86,314.04 L1018.22,307.33 L1017.62,300.62 L1017.06,293.91 L1016.53,287.21 L1016.04,280.5 L1017.7,280.5 L1018.22,287.21 L1018.78,293.91 L1019.37,300.62 L1020.01,307.33 L1020.69,314.04 L1021.4,320.74 L1022.16,327.45 L1022.95,334.16 L1023.79,340.86 L1024.66,347.57 L1025.57,354.28 L1026.52,360.99 L1027.51,367.69 L1028.54,374.4 L1029.61,381.11 L1030.71,387.81 L1031.86,394.52 L1033.05,401.23 L1034.27,407.94 L1035.53,414.64 L1036.84,421.35 L1038.18,428.06 L1039.56,434.76 L1040.98,441.47 L1042.44,448.18 L1043.93,454.89 L1045.47,461.59 L1047.05,468.3 Z" fill="url(#h)" stroke="#000" stroke-width="1.15"/>
<path d="M1052.7,468.3 L1050.97,461.59 L1049.29,454.89 L1047.65,448.18 L1046.05,441.47 L1044.49,434.76 L1042.98,428.06 L1041.51,421.35 L1040.08,414.64 L1038.7,407.94 L1037.35,401.23 L1036.05,394.52 L1034.8,387.81 L1033.58,381.11 L1032.41,374.4 L1031.28,367.69 L1030.2,360.99 L1029.15,354.28 L1028.15,347.57 L1027.2,340.86 L1026.28,334.16 L1025.41,327.45 L1024.58,320.74 L1023.79,314.04 L1023.05,307.33 L1022.35,300.62 L1021.69,293.91 L1021.07,287.21 L1020.5,280.5" stroke="#000" stroke-width="1.5" fill="none"/>
<path d="M954.5,280.5 H1020.6" stroke="#000" stroke-width="1.5"/>
<path d="M919.7,468.3 H1052.6" stroke="#000" stroke-width="1.3"/>
<path d="M919.7,468.3 C920.5,478 923,486 927.8,490.5 H1044.5 C1049,486 1051.8,478 1052.6,468.3" class="l"/>
<path d="M956,353.4 H1015.7 M956,371.6 H1015.7" stroke="#444" stroke-width="0.8"/>
<path d="M948.8,311.4 H952.3" stroke="#000" stroke-width="1.2"/>
</svg></body></html>
